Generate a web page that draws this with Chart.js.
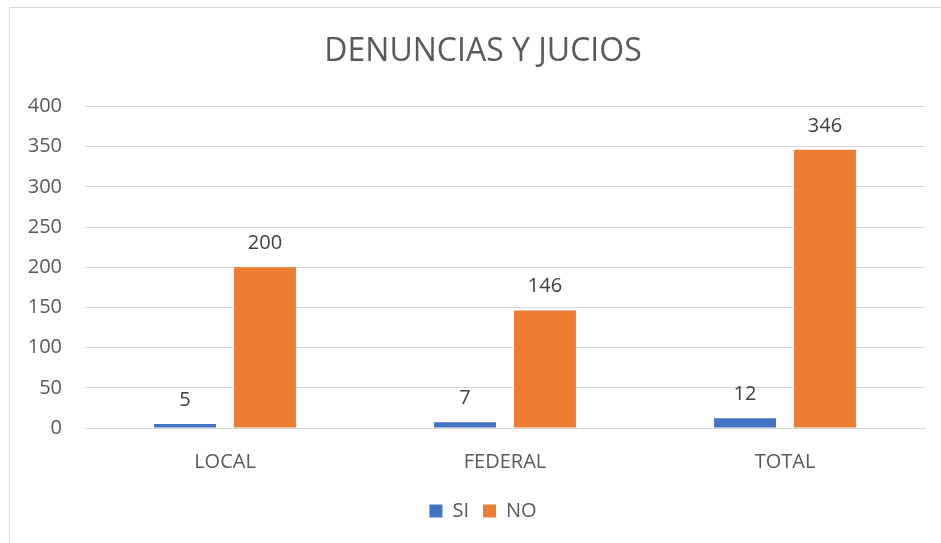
<!DOCTYPE html>
<html>
<head>
<meta charset="utf-8">
<script src="https://cdn.jsdelivr.net/npm/chart.js@4"></script>
<style>
  html, body { margin: 0; padding: 0; background: #fff; }
  #frame { position: absolute; left: 9px; top: 7px; width: 960px; height: 560px; border: 1px solid #d9d9d9; }
  #wrap { position: absolute; left: 0; top: 0; width: 941px; height: 543px; }
</style>
</head>
<body>
<div id="frame"></div>
<div id="wrap"><canvas id="myChart" width="941" height="543"></canvas></div>
<script>
const categories = ['LOCAL', 'FEDERAL', 'TOTAL'];
const siValues = [5, 7, 12];
const noValues = [200, 146, 346];
const yTicks = [0, 50, 100, 150, 200, 250, 300, 350, 400];

const textColor = '#595959';
const fontFamily = '"Open Sans", "Liberation Sans", sans-serif';

// value labels above each bar, placed from the bar elements themselves
const barLabels = {
  id: 'barLabels',
  afterDatasetsDraw(chart) {
    const ctx = chart.ctx;
    ctx.save();
    ctx.fillStyle = '#404040';
    ctx.font = '20px ' + fontFamily;
    ctx.textAlign = 'center';
    ctx.textBaseline = 'middle';
    chart.data.datasets.forEach((ds, i) => {
      chart.getDatasetMeta(i).data.forEach((bar, j) => {
        ctx.fillText(String(ds.data[j]), bar.x, bar.y - 24);
      });
    });
    ctx.restore();
  }
};

// y tick labels drawn outside the (narrow) y scale box, which would clip them
const yLabels = {
  id: 'yLabels',
  afterDraw(chart) {
    const ctx = chart.ctx;
    const y = chart.scales.y;
    ctx.save();
    ctx.fillStyle = textColor;
    ctx.font = '20px ' + fontFamily;
    ctx.textAlign = 'right';
    ctx.textBaseline = 'middle';
    yTicks.forEach(v => {
      ctx.fillText(String(v), y.right - 23, y.getPixelForValue(v));
    });
    ctx.restore();
  }
};

const ctx = document.getElementById('myChart');

const chart = new Chart(ctx, {
  type: 'bar',
  data: {
    labels: categories,
    datasets: [
      { label: 'SI', data: siValues, backgroundColor: '#4472C4', categoryPercentage: 0.571, barPercentage: 0.775 },
      { label: 'NO', data: noValues, backgroundColor: '#ED7D31', categoryPercentage: 0.571, barPercentage: 0.775 }
    ]
  },
  options: {
    responsive: false,
    animation: false,
    layout: { padding: { left: 41, right: 16, top: 0, bottom: 12 } },
    plugins: {
      title: {
        display: true,
        text: 'DENUNCIAS Y JUCIOS',
        color: textColor,
        font: { family: fontFamily, size: 32, weight: 'normal', lineHeight: 1.2 },
        padding: { top: 33, bottom: 35 }
      },
      legend: {
        position: 'bottom',
        labels: {
          color: textColor,
          font: { family: fontFamily, size: 20 },
          boxWidth: 13,
          boxHeight: 13,
          padding: 14
        }
      },
      tooltip: { enabled: false }
    },
    scales: {
      x: {
        grid: { display: false },
        border: { color: '#d9d9d9' },
        ticks: { color: textColor, font: { family: fontFamily, size: 20 }, padding: 14 },
        afterFit(scale) { scale.height = 59; }
      },
      y: {
        min: 0,
        max: 400,
        grid: { color: '#d9d9d9', drawTicks: false, lineWidth: 1 },
        border: { display: false },
        afterBuildTicks(scale) { scale.ticks = yTicks.map(v => ({ value: v })); },
        ticks: { display: false },
        afterFit(scale) { scale.width = 44; }
      }
    }
  },
  plugins: [barLabels, yLabels]
});
</script>
</body>
</html>
